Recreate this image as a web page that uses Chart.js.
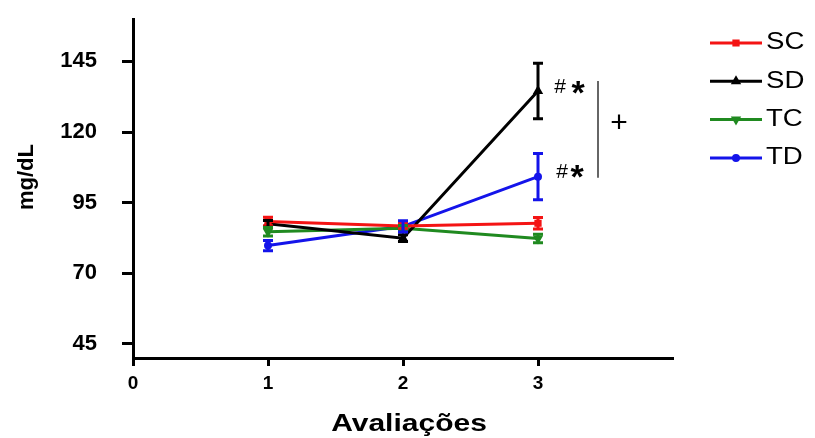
<!DOCTYPE html>
<html>
<head>
<meta charset="utf-8">
<script src="https://cdn.jsdelivr.net/npm/chart.js@4.4.1/dist/chart.umd.min.js"></script>
<style>
  html, body { margin: 0; padding: 0; background: #fff; }
</style>
</head>
<body>
<canvas id="chart" width="815" height="438"></canvas>
<script>
// Values (mean and error per evaluation)
const evaluations = [1, 2, 3];
const groups = ['SC', 'SD', 'TC', 'TD'];
const scMean = [88.3, 86.7, 87.7];
const scErr  = [1.5, 1.0, 2.0];
const sdMean = [87.5, 82.4, 134.5];
const sdErr  = [1.2, 1.2, 9.8];
const tcMean = [84.7, 85.9, 82.3];
const tcErr  = [1.5, 1.0, 1.5];
const tdMean = [79.8, 86.6, 104.2];
const tdErr  = [1.8, 2.0, 8.2];
const xTicks = [0, 1, 2, 3];
const yTicks = [45, 70, 95, 120, 145];

const colors = ['#f41414', '#000000', '#208a20', '#1414ea'];
const styles = ['rect', 'triangle', 'triangle', 'circle'];
const rotations = [0, 0, 180, 0];
const means = [scMean, sdMean, tcMean, tdMean];
const errs = [scErr, sdErr, tcErr, tdErr];

const datasets = groups.map((g, i) => ({
    label: g,
    data: evaluations.map((e, j) => ({x: e, y: means[i][j]})),
    errors: errs[i],
    borderColor: colors[i],
    backgroundColor: colors[i],
    borderWidth: 3,
    pointStyle: styles[i],
    pointRotation: rotations[i],
    pointRadius: i === 3 ? 2.5 : 3,
    tension: 0
}));

function marker(ctx, ds, x, y) {
    ctx.fillStyle = ds.borderColor;
    ctx.strokeStyle = ds.borderColor;
    if (Chart.helpers && Chart.helpers.drawPoint) {
        Chart.helpers.drawPoint(ctx, {pointStyle: ds.pointStyle, rotation: ds.pointRotation, radius: ds.pointRadius, borderWidth: 1}, x, y);
    } else {
        ctx.fillRect(x - 3, y - 3, 6, 6);
    }
}

// draw a glyph with its ink box centred on (cx, cy)
function centred(ctx, text, cx, cy) {
    const m = ctx.measureText(text);
    ctx.textAlign = 'center';
    ctx.textBaseline = 'alphabetic';
    ctx.fillText(text, cx, cy + (m.actualBoundingBoxAscent - m.actualBoundingBoxDescent) / 2);
}

// Error bars, legend, titles and significance marks.
const extras = {
    id: 'extras',
    afterDatasetsDraw(chart) {
        const {ctx, scales: {x, y}} = chart;
        ctx.save();
        chart.data.datasets.forEach(ds => {
            ctx.strokeStyle = ds.borderColor;
            ctx.lineWidth = 3;
            ds.data.forEach((p, i) => {
                const px = x.getPixelForValue(p.x);
                const top = y.getPixelForValue(p.y + ds.errors[i]);
                const bot = y.getPixelForValue(p.y - ds.errors[i]);
                ctx.beginPath();
                ctx.moveTo(px, top); ctx.lineTo(px, bot);
                ctx.moveTo(px - 5, top); ctx.lineTo(px + 5, top);
                ctx.moveTo(px - 5, bot); ctx.lineTo(px + 5, bot);
                ctx.stroke();
            });
        });
        ctx.restore();
    },
    afterDraw(chart) {
        const {ctx, scales: {x, y}} = chart;
        ctx.save();

        // legend
        chart.data.datasets.forEach((ds, i) => {
            const ly = 43 + i * 38.3;
            ctx.strokeStyle = ds.borderColor;
            ctx.lineWidth = 3;
            ctx.beginPath();
            ctx.moveTo(710, ly); ctx.lineTo(762, ly);
            ctx.stroke();
            marker(ctx, ds, 736, ly);
            ctx.save();
            ctx.translate(766, ly);
            ctx.scale(1.2, 1);
            ctx.fillStyle = '#000';
            ctx.font = '23px "Liberation Sans", Arial, sans-serif';
            ctx.textAlign = 'left';
            ctx.textBaseline = 'middle';
            ctx.fillText(ds.label, 0, 0);
            ctx.restore();
        });

        // axis titles
        ctx.fillStyle = '#000';
        ctx.save();
        ctx.translate(27, 177);
        ctx.rotate(-Math.PI / 2);
        ctx.font = 'bold 22px "Liberation Sans", Arial, sans-serif';
        ctx.textAlign = 'center';
        ctx.textBaseline = 'middle';
        ctx.fillText('mg/dL', 0, 0);
        ctx.restore();

        ctx.save();
        ctx.translate(409, 431);
        ctx.scale(1.25, 1);
        ctx.font = 'bold 24px "Liberation Sans", Arial, sans-serif';
        ctx.textAlign = 'center';
        ctx.textBaseline = 'alphabetic';
        ctx.fillText('Avaliações', 0, 0);
        ctx.restore();

        // significance marks next to evaluation 3
        const p3 = x.getPixelForValue(3);
        const sdY = y.getPixelForValue(sdMean[2]);
        const tdY = y.getPixelForValue(tdMean[2]);
        ctx.font = '21px "Liberation Sans", Arial, sans-serif';
        centred(ctx, '#', p3 + 22, sdY - 5);
        centred(ctx, '#', p3 + 24, tdY - 6);
        ctx.font = 'bold 34px "Liberation Sans", Arial, sans-serif';
        centred(ctx, '*', p3 + 40, sdY - 4);
        centred(ctx, '*', p3 + 39, tdY - 5);

        ctx.strokeStyle = '#333';
        ctx.lineWidth = 1.5;
        ctx.beginPath();
        ctx.moveTo(p3 + 60, sdY - 10);
        ctx.lineTo(p3 + 60, tdY + 1);
        ctx.stroke();

        ctx.font = '30px "Liberation Sans", Arial, sans-serif';
        centred(ctx, '+', p3 + 81, (sdY + tdY) / 2 - 12);

        ctx.restore();
    }
};

new Chart(document.getElementById('chart'), {
    type: 'line',
    data: {datasets},
    options: {
        responsive: false,
        animation: false,
        layout: {padding: {top: 19, right: 142, left: 0, bottom: 0}},
        plugins: {legend: {display: false}, tooltip: {enabled: false}},
        scales: {
            x: {
                type: 'linear',
                min: 0,
                max: 4,
                afterBuildTicks: s => { s.ticks = xTicks.map(v => ({value: v})); },
                afterFit: s => { s.height = 80; s.paddingLeft = 0; s.paddingRight = 0; },
                grid: {drawOnChartArea: false, tickLength: 8, tickWidth: 3, tickColor: '#000'},
                border: {display: true, color: '#000', width: 3},
                ticks: {
                    color: '#000',
                    padding: 6,
                    font: {family: '"Liberation Sans", Arial, sans-serif', size: 19, weight: 'bold'}
                }
            },
            y: {
                type: 'linear',
                min: 40,
                max: 160,
                afterBuildTicks: s => { s.ticks = yTicks.map(v => ({value: v})); },
                afterFit: s => { s.width = 133; s.paddingTop = 0; s.paddingBottom = 0; },
                grid: {drawOnChartArea: false, tickLength: 11, tickWidth: 3, tickColor: '#000'},
                border: {display: true, color: '#000', width: 3},
                ticks: {
                    color: '#000',
                    padding: 25,
                    font: {family: '"Liberation Sans", Arial, sans-serif', size: 22, weight: 'bold'}
                }
            }
        }
    },
    plugins: [extras]
});
</script>
</body>
</html>
